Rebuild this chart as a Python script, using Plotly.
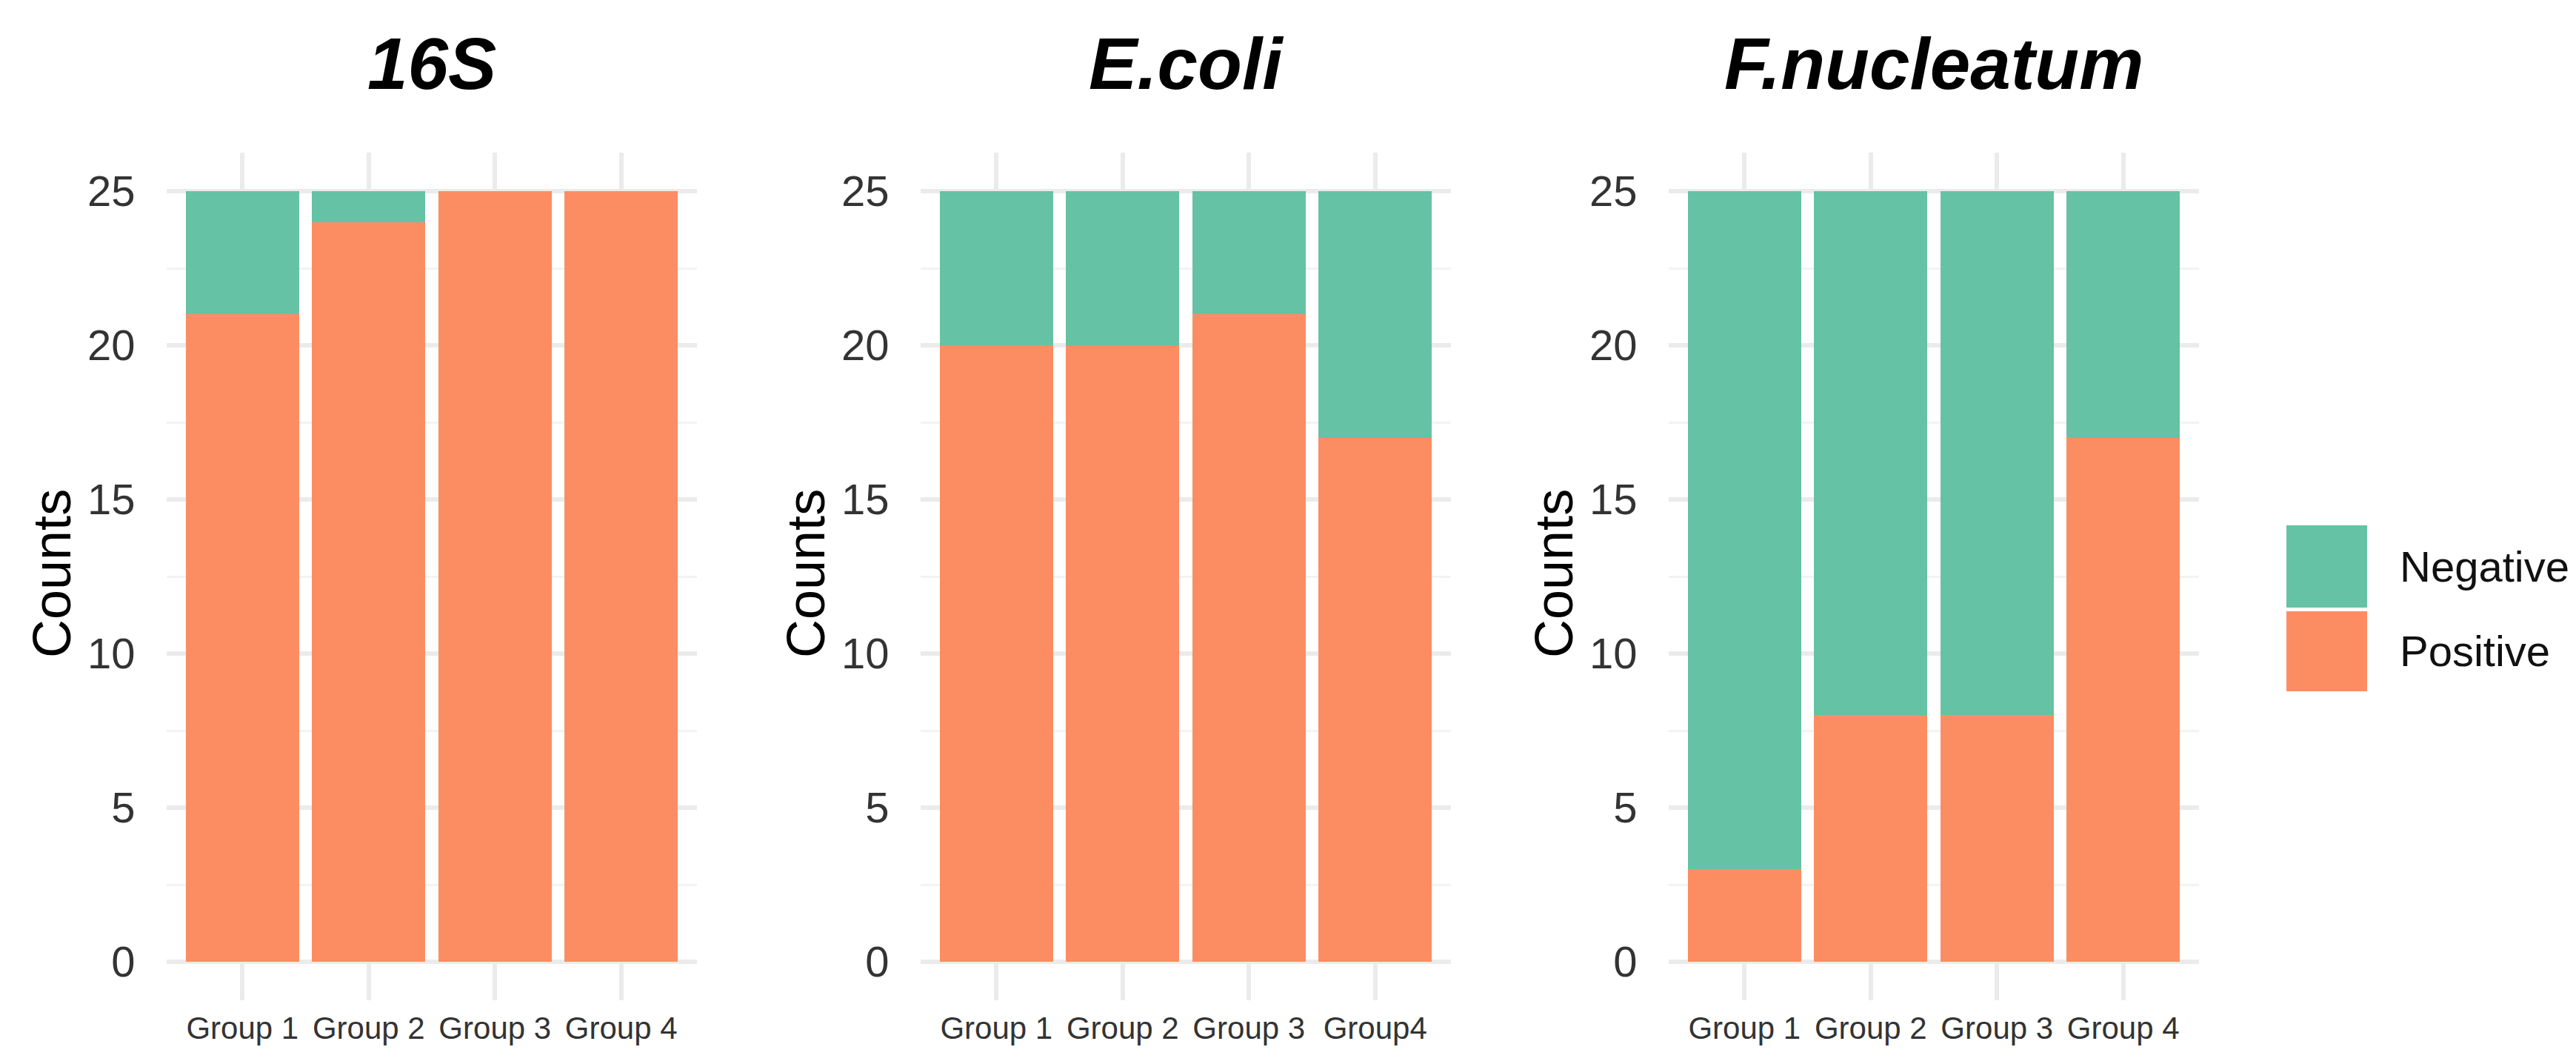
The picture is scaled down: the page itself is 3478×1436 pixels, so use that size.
import plotly.graph_objects as go

W, H = 3478, 1436

# ---------------- data ----------------
panel_titles = ["16S", "E.coli", "F.nucleatum"]
groups_16s = ["Group 1", "Group 2", "Group 3", "Group 4"]
groups_ecoli = ["Group 1", "Group 2", "Group 3", "Group4"]
groups_fnuc = ["Group 1", "Group 2", "Group 3", "Group 4"]

positive_16s = [21, 24, 25, 25]
negative_16s = [4, 1, 0, 0]
positive_ecoli = [20, 20, 21, 17]
negative_ecoli = [5, 5, 4, 8]
positive_fnuc = [3, 8, 8, 17]
negative_fnuc = [22, 17, 17, 8]

series_names = ["Negative", "Positive"]
y_ticks = [0, 5, 10, 15, 20, 25]

# ---------------- style ----------------
COL_NEG = "#66C2A5"
COL_POS = "#FC8D62"
FONT = "Liberation Sans, Arial, sans-serif"
GRID_MAJOR = "#EBEBEB"
GRID_MINOR = "#F3F3F3"


def px_x(v):
    return v / W


def px_y(v):
    return 1 - v / H


# plot-area pixel boxes (left, right) and shared top/bottom
panel_px = [(217, 933), (1235, 1951), (2245, 2961)]
top_px, bot_px = 198, 1342

fig = go.Figure()

panels = [
    (groups_16s, positive_16s, negative_16s),
    (groups_ecoli, positive_ecoli, negative_ecoli),
    (groups_fnuc, positive_fnuc, negative_fnuc),
]

annotations = []
shapes = []
for i, (cats, pos, neg) in enumerate(panels):
    xa = "x" if i == 0 else f"x{i+1}"
    ya = "y" if i == 0 else f"y{i+1}"
    fig.add_trace(go.Bar(x=cats, y=pos, name="Positive", marker=dict(color=COL_POS, line=dict(width=0)),
                         xaxis=xa, yaxis=ya, showlegend=False))
    fig.add_trace(go.Bar(x=cats, y=neg, name="Negative", marker=dict(color=COL_NEG, line=dict(width=0)),
                         xaxis=xa, yaxis=ya, showlegend=False))
    l, r = panel_px[i]
    key = "" if i == 0 else str(i + 1)
    fig.layout["xaxis" + key] = dict(
        domain=[px_x(l), px_x(r)], anchor=ya, range=[-0.6, 3.6],
        showgrid=True, gridcolor=GRID_MAJOR, gridwidth=6,
        showline=False, zeroline=False, automargin=False,
        ticks="outside", ticklen=1, tickcolor="rgba(0,0,0,0)",
        tickfont=dict(family=FONT, size=42, color="#333333"),
        fixedrange=True,
    )
    fig.layout["yaxis" + key] = dict(
        domain=[px_y(bot_px), px_y(top_px)], anchor=xa, range=[-1.25, 26.25],
        tickvals=y_ticks, showgrid=True, gridcolor=GRID_MAJOR, gridwidth=6,
        minor=dict(dtick=2.5, tick0=0, showgrid=True, gridcolor=GRID_MINOR, gridwidth=3),
        showline=False, zeroline=False, automargin=False,
        ticks="outside", ticklen=30, tickcolor="rgba(0,0,0,0)",
        tickfont=dict(family=FONT, size=58, color="#333333"),
        fixedrange=True,
    )
    # panel title
    annotations.append(dict(
        text=f"<b><i>{panel_titles[i]}</i></b>", xref="paper", yref="paper",
        x=px_x((l + r) / 2), y=px_y(78), xanchor="center", yanchor="middle",
        showarrow=False, font=dict(family=FONT, size=98, color="#000000"),
    ))
    # y axis title
    annotations.append(dict(
        text="Counts", xref="paper", yref="paper",
        x=px_x(l - 155), y=px_y(766), xanchor="center", yanchor="middle",
        textangle=-90, showarrow=False, font=dict(family=FONT, size=72, color="#000000"),
    ))

# legend (drawn as swatches + labels)
legend_items = [(series_names[0], COL_NEG, 701, 812), (series_names[1], COL_POS, 817, 925)]
for name, col, y0, y1 in legend_items:
    shapes.append(dict(type="rect", xref="paper", yref="paper",
                       x0=px_x(3079), x1=px_x(3188), y0=px_y(y1), y1=px_y(y0),
                       fillcolor=col, line=dict(width=0)))
    annotations.append(dict(
        text=name, xref="paper", yref="paper", x=px_x(3230), y=px_y((y0 + y1) / 2),
        xanchor="left", yanchor="middle", showarrow=False,
        font=dict(family=FONT, size=58, color="#111111"),
    ))

fig.update_layout(
    template="none",
    width=W, height=H,
    margin=dict(l=0, r=0, t=0, b=0),
    paper_bgcolor="white", plot_bgcolor="white",
    barmode="stack", bargap=0.1,
    showlegend=False,
    annotations=annotations, shapes=shapes,
)

fig.write_html("out.html")
